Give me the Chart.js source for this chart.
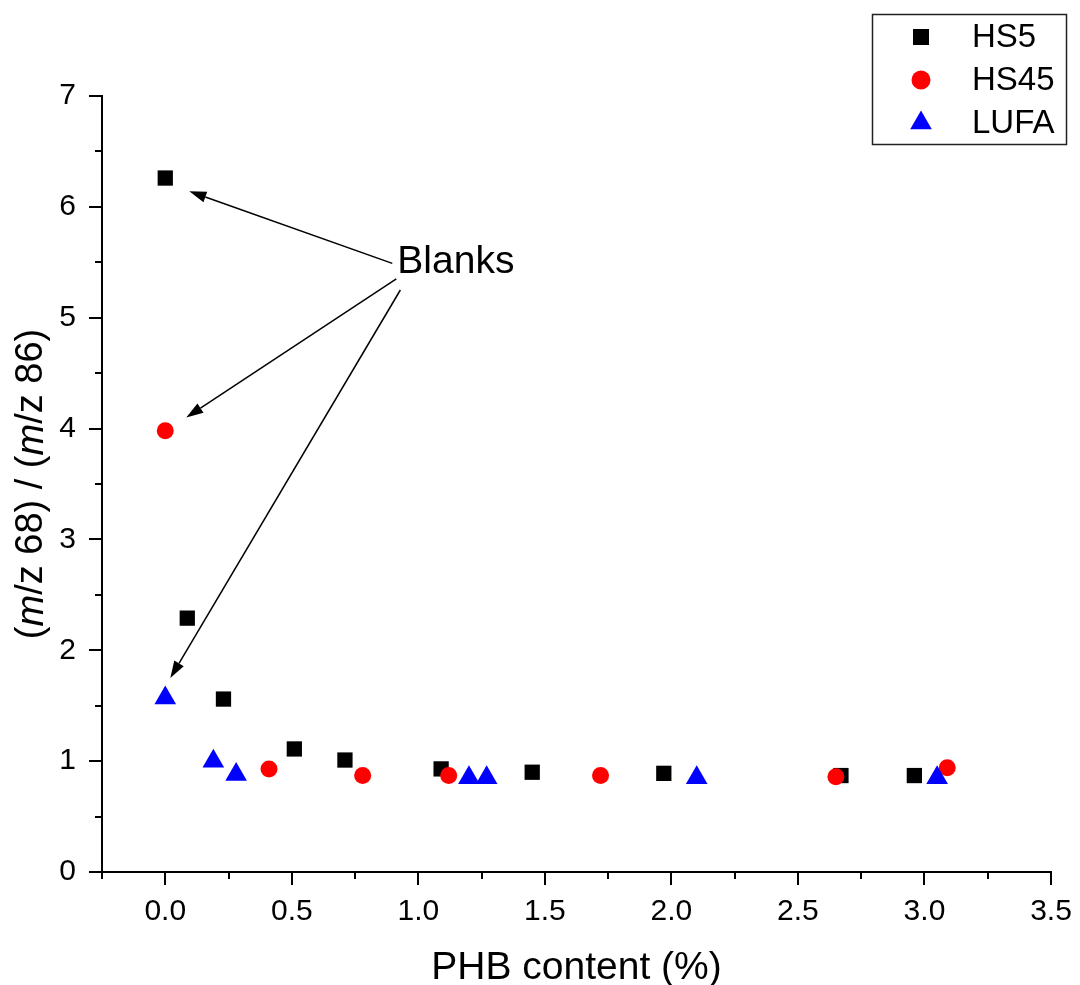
<!DOCTYPE html>
<html>
<head>
<meta charset="utf-8">
<script src="https://cdn.jsdelivr.net/npm/chart.js@4.4.0/dist/chart.umd.min.js"></script>
<style>
  html, body { margin: 0; padding: 0; background: #fff; }
  #wrap { width: 1080px; height: 985px; }
</style>
</head>
<body>
<div id="wrap"><canvas id="myChart" width="1080" height="985"></canvas></div>
<script>
// PHB content (%) and ion ratio for each soil
const hs5X = [0, 0.087, 0.23, 0.51, 0.71, 1.09, 1.45, 1.97, 2.67, 2.96];
const hs5Y = [6.26, 2.29, 1.56, 1.11, 1.01, 0.93, 0.90, 0.89, 0.87, 0.87];
const hs45X = [0, 0.41, 0.78, 1.12, 1.72, 2.65, 3.09];
const hs45Y = [3.98, 0.93, 0.87, 0.87, 0.87, 0.86, 0.94];
const lufaX = [0, 0.19, 0.28, 1.20, 1.27, 2.10, 3.05];
const lufaY = [1.57, 1.00, 0.88, 0.85, 0.85, 0.85, 0.85];

const seriesNames = ['HS5', 'HS45', 'LUFA'];
const xTicks = [0, 0.5, 1.0, 1.5, 2.0, 2.5, 3.0, 3.5];
const yTicks = [0, 1, 2, 3, 4, 5, 6, 7];

// "Blanks" callout: label anchor and arrows (data units)
const blankLabel = { text: 'Blanks', x: 0.917, y: 5.40 };
const blankArrows = [
    { x0: 0.897, y0: 5.49, x1: 0.095, y1: 6.14 },
    { x0: 0.913, y0: 5.35, x1: 0.083, y1: 4.10 },
    { x0: 0.929, y0: 5.25, x1: 0.020, y1: 1.75 }
];

const FONT = '"Liberation Sans", Arial, Helvetica, sans-serif';

var toPoints = function (xs, ys) {
    return xs.map((x, i) => ({ x: x, y: ys[i] }));
}

function drawMarker(ctx, style, x, y, color) {
    ctx.save();
    ctx.fillStyle = color;
    ctx.beginPath();
    if (style == 'rect') {
        ctx.rect(x - 8, y - 8, 16, 16);
    } else if (style == 'circle') {
        ctx.arc(x, y, 9.5, 0, Math.PI * 2);
    } else {
        var r = 12.5;
        ctx.moveTo(x, y - r);
        ctx.lineTo(x + r * 0.866, y + r / 2);
        ctx.lineTo(x - r * 0.866, y + r / 2);
        ctx.closePath();
    }
    ctx.fill();
    ctx.restore();
}

function drawArrow(ctx, x0, y0, x1, y1) {
    var ang = Math.atan2(y1 - y0, x1 - x0);
    var len = 17, half = 5.5;
    var bx = x1 - Math.cos(ang) * len, by = y1 - Math.sin(ang) * len;
    ctx.beginPath();
    ctx.moveTo(x0, y0);
    ctx.lineTo(bx, by);
    ctx.stroke();
    ctx.beginPath();
    ctx.moveTo(x1, y1);
    ctx.lineTo(bx + Math.sin(ang) * half, by - Math.cos(ang) * half);
    ctx.lineTo(bx - Math.sin(ang) * half, by + Math.cos(ang) * half);
    ctx.closePath();
    ctx.fill();
}

// tick marks, axis titles, callout and legend box
const decorations = {
    id: 'decorations',
    afterDraw(chart) {
        const ctx = chart.ctx;
        const xs = chart.scales.x, ys = chart.scales.y;
        const area = chart.chartArea;
        ctx.save();
        ctx.strokeStyle = '#000';
        ctx.fillStyle = '#000';
        ctx.lineWidth = 2;

        // x ticks, minor ones halfway
        ctx.beginPath();
        xTicks.forEach(function (v, i) {
            var px = Math.round(xs.getPixelForValue(v));
            ctx.moveTo(px, area.bottom);
            ctx.lineTo(px, area.bottom + 13);
            var mx = Math.round(xs.getPixelForValue(v - 0.25));
            ctx.moveTo(mx, area.bottom);
            ctx.lineTo(mx, area.bottom + 7);
        });
        yTicks.forEach(function (v, i) {
            var py = Math.round(ys.getPixelForValue(v));
            ctx.moveTo(area.left, py);
            ctx.lineTo(area.left - 13, py);
            if (i > 0) {
                var my = Math.round(ys.getPixelForValue(v - 0.5));
                ctx.moveTo(area.left, my);
                ctx.lineTo(area.left - 7, my);
            }
        });
        ctx.stroke();

        // x title
        ctx.font = '39px ' + FONT;
        ctx.textAlign = 'center';
        ctx.textBaseline = 'middle';
        ctx.fillText('PHB content (%)', (area.left + area.right) / 2, 968);

        // y title with italic m
        var parts = [['(', ''], ['m', 'italic '], ['/z 68) / (', ''], ['m', 'italic '], ['/z 86)', '']];
        var total = 0;
        parts.forEach(function (p) {
            ctx.font = p[1] + '38px ' + FONT;
            total += ctx.measureText(p[0]).width;
        });
        ctx.save();
        ctx.translate(32, (area.top + area.bottom) / 2);
        ctx.rotate(-Math.PI / 2);
        ctx.textAlign = 'left';
        var cx = -total / 2;
        parts.forEach(function (p) {
            ctx.font = p[1] + '38px ' + FONT;
            ctx.fillText(p[0], cx, 0);
            cx += ctx.measureText(p[0]).width;
        });
        ctx.restore();

        // Blanks callout
        ctx.lineWidth = 1.5;
        blankArrows.forEach(function (a) {
            drawArrow(ctx, xs.getPixelForValue(a.x0), ys.getPixelForValue(a.y0),
                xs.getPixelForValue(a.x1), ys.getPixelForValue(a.y1));
        });
        ctx.font = '39px ' + FONT;
        ctx.textAlign = 'left';
        ctx.textBaseline = 'alphabetic';
        ctx.fillText(blankLabel.text, xs.getPixelForValue(blankLabel.x), ys.getPixelForValue(blankLabel.y));

        // legend
        ctx.lineWidth = 1.5;
        ctx.strokeStyle = '#222';
        ctx.strokeRect(872.5, 14.5, 194, 130);
        ctx.font = '33px ' + FONT;
        ctx.textBaseline = 'middle';
        chart.data.datasets.forEach(function (ds, i) {
            var ry = 37 + i * 43;
            drawMarker(ctx, ds.pointStyle, 921, ry, ds.backgroundColor);
            ctx.fillStyle = '#000';
            ctx.fillText(ds.label, 972, ry + 1);
        });
        ctx.restore();
    }
};

const ctx = document.getElementById('myChart');
const myChart = new Chart(ctx, {
    type: 'scatter',
    data: {
        datasets: [
            {
                label: seriesNames[0],
                data: toPoints(hs5X, hs5Y),
                pointStyle: 'rect',
                pointRadius: 10.8,
                backgroundColor: '#000000',
                borderWidth: 0,
                order: 3
            },
            {
                label: seriesNames[1],
                data: toPoints(hs45X, hs45Y),
                pointStyle: 'circle',
                pointRadius: 8.5,
                backgroundColor: '#ff0000',
                borderWidth: 0,
                order: 2
            },
            {
                label: seriesNames[2],
                data: toPoints(lufaX, lufaY),
                pointStyle: 'triangle',
                pointRadius: 12.5,
                backgroundColor: '#0000ff',
                borderWidth: 0,
                order: 1
            }
        ]
    },
    options: {
        responsive: false,
        animation: false,
        layout: {
            padding: { top: 96, right: 29, left: 0, bottom: 0 }
        },
        plugins: {
            legend: { display: false },
            tooltip: { enabled: false }
        },
        scales: {
            x: {
                type: 'linear',
                min: -0.25,
                max: 3.5,
                afterBuildTicks: function (scale) {
                    scale.ticks = xTicks.map(v => ({ value: v }));
                },
                afterFit: function (scale) {
                    scale.height = 113;
                    scale.paddingLeft = 0;
                    scale.paddingRight = 0;
                },
                grid: { display: false, drawTicks: false },
                border: { display: true, color: '#000', width: 2 },
                ticks: {
                    color: '#000',
                    padding: 22,
                    maxRotation: 0,
                    font: { family: FONT, size: 30 },
                    callback: function (v) { return v.toFixed(1); }
                }
            },
            y: {
                type: 'linear',
                min: 0,
                max: 7,
                afterBuildTicks: function (scale) {
                    scale.ticks = yTicks.map(v => ({ value: v }));
                },
                afterFit: function (scale) {
                    scale.width = 102;
                    scale.paddingTop = 0;
                    scale.paddingBottom = 0;
                },
                grid: { display: false, drawTicks: false },
                border: { display: true, color: '#000', width: 2 },
                ticks: {
                    color: '#000',
                    padding: 26,
                    font: { family: FONT, size: 30 },
                    callback: function (v) { return String(v); }
                }
            }
        }
    },
    plugins: [decorations]
});
</script>
</body>
</html>
